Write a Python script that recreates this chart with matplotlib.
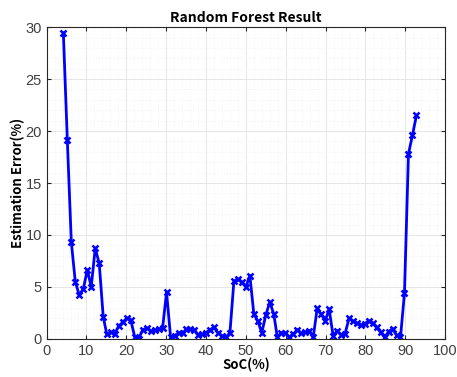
import matplotlib
matplotlib.use('Agg')
import matplotlib.pyplot as plt
from matplotlib.ticker import MultipleLocator

# SoC positions of the estimates
soc = [4.2, 5.2, 6.2, 7.2, 8.2, 9.2, 10.2, 11.2, 12.2, 13.2,
       14.2, 15.1, 16.1, 17.1, 18.1, 19.1, 20.1, 21.1, 22.1, 23.1,
       24.1, 25.1, 26.1, 27.1, 28.1, 29.1, 30.1, 31.1, 32.1, 33.1,
       34.1, 35.1, 36.0, 37.0, 38.0, 39.0, 40.0, 41.0, 42.0, 43.0,
       44.0, 45.0, 46.0, 47.0, 48.0, 49.0, 50.0, 51.0, 52.0, 53.0,
       54.0, 55.0, 56.0, 57.0, 57.9, 58.9, 59.9, 60.9, 61.9, 62.9,
       63.9, 64.9, 65.9, 66.9, 67.9, 68.9, 69.9, 70.9, 71.9, 72.9,
       73.9, 74.9, 75.9, 76.9, 77.9, 78.8, 79.8, 80.8, 81.8, 82.8,
       83.8, 84.8, 85.8, 86.8, 87.8, 88.8, 89.8, 90.8, 91.8, 92.8]

# estimation error in %
error = [29.45, 19.1, 9.3, 5.5, 4.2, 4.8, 6.63, 5.03, 8.72, 7.28,
         2.15, 0.45, 0.65, 0.5, 1.25, 1.6, 2.0, 1.83, 0.22, 0.03,
         0.87, 1.05, 0.75, 0.85, 0.95, 1.05, 4.5,
         0.2, 0.3, 0.6, 0.55, 0.95, 0.95, 0.9, 0.4, 0.45, 0.6,
         0.9, 1.1, 0.6, 0.3, 0.15, 0.6,
         5.55, 5.75, 5.45, 5.0, 6.1,
         2.4, 1.7, 0.6, 2.3, 3.55, 2.4, 0.15, 0.6, 0.6, 0.2,
         0.45, 0.9, 0.55, 0.65, 0.8, 0.15,
         2.95, 2.37, 1.75, 2.85, 0.29, 0.8, 0.42, 0.52,
         2.0, 1.7, 1.5, 1.3, 1.45, 1.75, 1.5, 1.1, 0.65, 0.15,
         0.7, 1.0, 0.35, 0.15, 4.4,
         17.8, 19.6, 21.5]

plt.rcParams['font.family'] = ['Noto Sans CJK KR', 'DejaVu Sans']

fig = plt.figure(figsize=(4.57, 3.77), dpi=100)
ax = fig.add_axes([0.102, 0.101, 0.872, 0.827])

ax.plot(soc, error, color='#0000ff', linewidth=2, marker='x',
        markersize=4.5, markeredgewidth=1.8)

ax.set_xlim(0, 100)
ax.set_ylim(0, 30)
ax.xaxis.set_major_locator(MultipleLocator(10))
ax.yaxis.set_major_locator(MultipleLocator(5))
ax.xaxis.set_minor_locator(MultipleLocator(2))
ax.yaxis.set_minor_locator(MultipleLocator(1))

ax.grid(which='major', color='#e6e6e6', linewidth=0.7)
ax.grid(which='minor', color='#f2f2f2', linewidth=0.6, linestyle=':')
ax.set_axisbelow(True)

ax.tick_params(which='both', direction='in', top=True, right=True,
               colors='#262626', labelsize=10.5, labelcolor='#404040')
ax.tick_params(which='minor', length=0)
ax.tick_params(which='major', length=3)
for lbl in ax.get_xticklabels() + ax.get_yticklabels():
    lbl.set_family('Liberation Sans')
for s in ax.spines.values():
    s.set_color('#262626')
    s.set_linewidth(0.8)

ax.set_title('Random Forest Result', fontsize=10, fontweight='bold', pad=4)
ax.set_xlabel('SoC(%)', fontsize=9.5, fontweight='bold', labelpad=0)
ax.set_ylabel('Estimation Error(%)', fontsize=9.5, fontweight='bold', labelpad=0)

fig.savefig('out.png', dpi=100)
plt.close(fig)
